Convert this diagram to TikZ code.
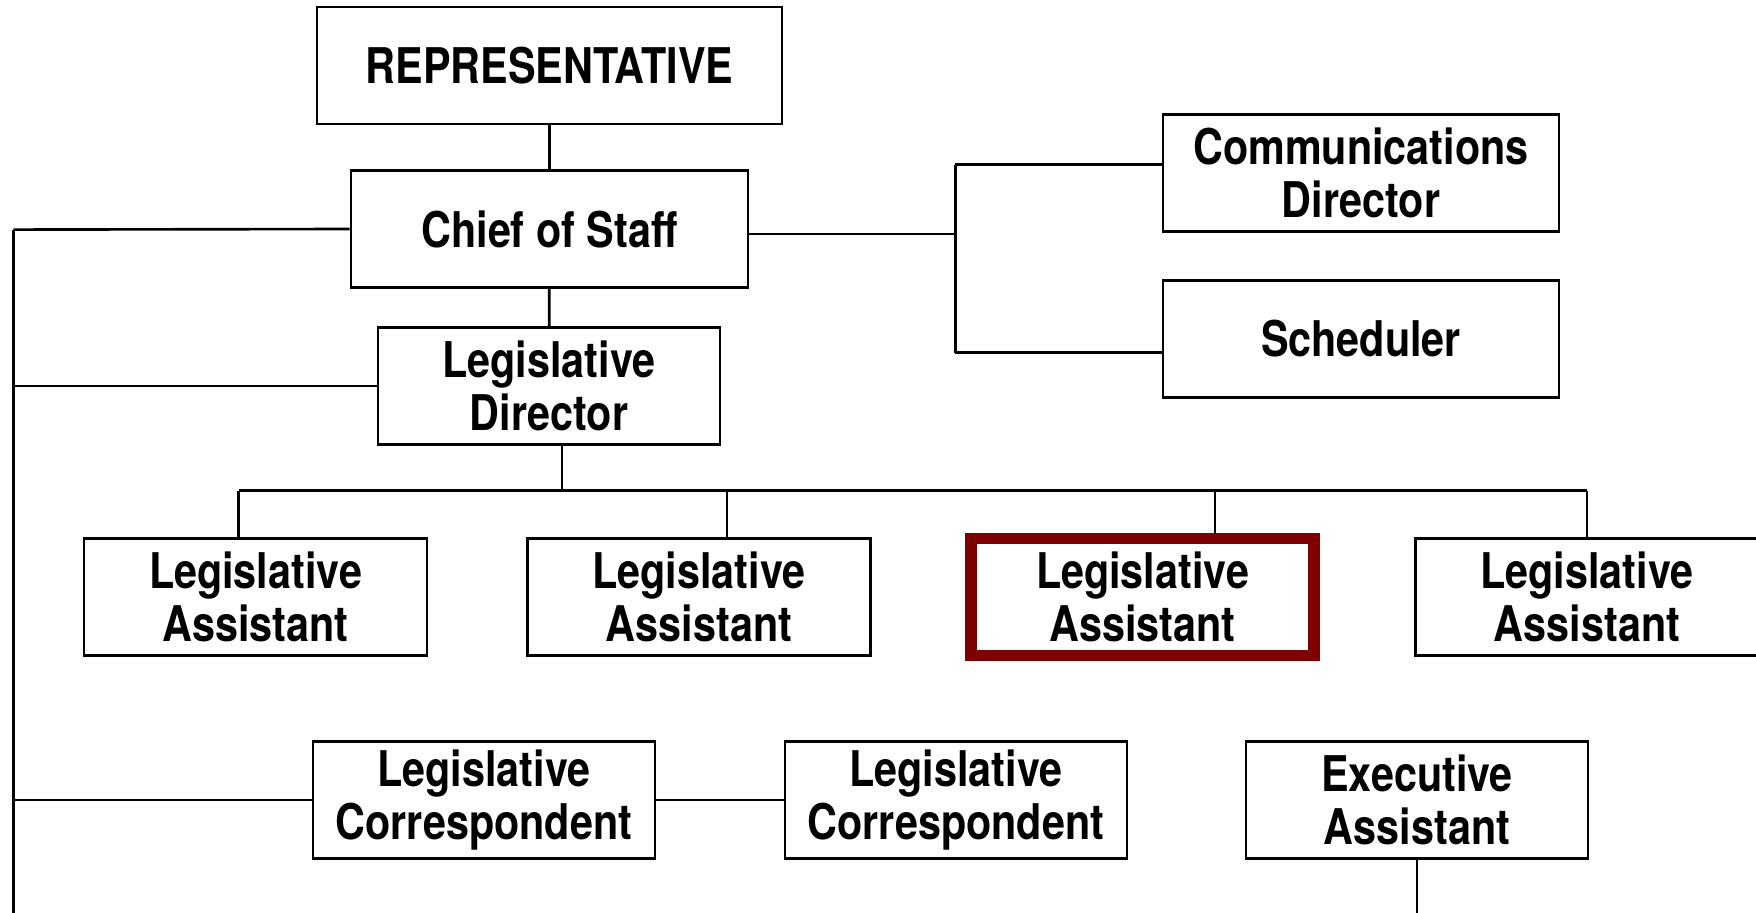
\documentclass[tikz,border=0pt]{standalone}
\usepackage{fontspec}
\setmainfont{TeX Gyre Heros}[FakeStretch=0.84]
\usetikzlibrary{positioning}

\definecolor{maroon}{HTML}{7F0000}

\tikzset{
  post/.style={draw, line width=1.5pt, rectangle, inner sep=0pt, align=center,
    minimum width=6.86cm, minimum height=2.34cm,
    font=\bfseries\fontsize{28}{30}\selectfont},
  link/.style={line width=1.5pt},
  chosen/.style={draw=maroon, line width=6.4pt}
}

\begin{document}
\begin{tikzpicture}[x=0.02cm,y=-0.02cm]
\useasboundingbox (0,0) rectangle (1756,913);

% top of the office
\node[post, minimum width=9.3cm]  (rep) at (549.5,65.5) {REPRESENTATIVE};
\node[post, minimum width=7.94cm] (cos) at (549.5,229) {Chief of Staff};
\node[post, minimum width=6.84cm] (ld)  at (549,386) {Legislative\\Director};
\node[post, minimum width=7.92cm] (cd)  at (1361,173) {Communications\\Director};
\node[post, minimum width=7.92cm] (sch) at (1361,339) {Scheduler};

% legislative assistants
\node[post] (la1) at (255.5,597) {Legislative\\Assistant};
\node[post] (la2) at (699,597) {Legislative\\Assistant};
\node[post, chosen] (la3) at (1142.5,597) {Legislative\\Assistant};
\node[post] (la4) at (1587,597) {Legislative\\Assistant};

% bottom row
\node[post, minimum width=6.84cm] (lc1) at (484,800) {Legislative\\Correspondent};
\node[post, minimum width=6.84cm] (lc2) at (956,800) {Legislative\\Correspondent};
\node[post, minimum width=6.84cm] (ea)  at (1417,800) {Executive\\Assistant};

\coordinate (spineT) at (13.4,229.6);
\coordinate (spineB) at (13.4,913);
\coordinate (fork)   at (955.4,234);
\coordinate (forkT)  at (955.4,164.6);
\coordinate (forkB)  at (955.4,352.8);
\coordinate (busL)   at (238.6,490.6);
\coordinate (busR)   at (1587,490.6);
\coordinate (busLD)  at (562,490.6);
\coordinate (drop2)  at (727,490.6);
\coordinate (drop3)  at (1215,490.6);

\draw[link] (rep) -- (cos);
\draw[link] (cos) -- (ld);

% left spine
\draw[link] (spineT) -- (spineB);
\draw[link] (cos.west) -- (spineT);
\draw[link] (ld.west) -- (ld.west -| spineT);
\draw[link] (lc1.west) -- (lc1.west -| spineT);
\draw[link] (lc1.east) -- (lc2.west);
\draw[link] (ea.south) -- (ea.south |- spineB);

% right fork
\draw[link] (cos.east |- fork) -- (fork);
\draw[link] (forkT) -- (forkB);
\draw[link] (forkT) -- (forkT -| cd.west);
\draw[link] (forkB) -- (forkB -| sch.west);

% bus to the assistants
\draw[link] (busL) -- (busR);
\draw[link] (busLD) -- (busLD |- ld.south);
\draw[link] (busL) -- (busL |- la1.north);
\draw[link] (drop2) -- (drop2 |- la2.north);
\draw[link] (drop3) -- (drop3 |- la3.north);
\draw[link] (busR) -- (la4.north);
\end{tikzpicture}
\end{document}
